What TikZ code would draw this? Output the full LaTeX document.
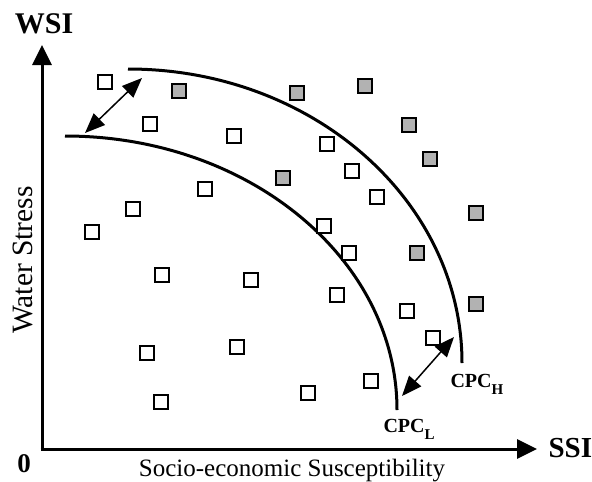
\documentclass[tikz,border=0pt]{standalone}
\usepackage{fontspec}
\setmainfont{Liberation Serif}
\usepackage{tikz}
\usetikzlibrary{positioning}
\usetikzlibrary{arrows.meta}
\definecolor{boxgray}{RGB}{178,178,178}
\newcommand{\cpclabel}[1]{CPC\raisebox{-7pt}{\fontsize{15}{15}\selectfont #1}}

\begin{document}
\begin{tikzpicture}[x=1pt,y=-1pt,
		wbox/.style={draw,line width=1.5pt,fill=white,inner sep=0pt,minimum size=14pt},
		gbox/.style={wbox,fill=boxgray},
		axis/.style={line width=3pt,-{Triangle[length=20pt,width=19pt]}},
		band/.style={line width=3pt},
		dbl/.style={line width=1.5pt,{Triangle[length=20pt,width=16pt]}-{Triangle[length=20pt,width=16pt]}}]
			\useasboundingbox (0,0) rectangle (592,482);

			% Axes
			\coordinate (O) at (42,449);
			\coordinate (ytip) at (42,45);
			\coordinate (xtip) at (537,449);
			\draw[axis] ([yshift=1.5pt]O) -- (ytip);
			\draw[axis] ([xshift=-1.5pt]O) -- (xtip);

			% Axis labels
			\node[anchor=base] (wsi) at (44,33) {\fontsize{30}{30}\selectfont\bfseries WSI};
			\node[anchor=base west] (ssi) at (545,457) {\fontsize{29}{29}\selectfont\bfseries SSI};
			\node[anchor=base] (zero) at (24,472) {\fontsize{27}{27}\selectfont\bfseries 0};
			\node[anchor=base,rotate=90] (ws) at (32,260) {\fontsize{29.5}{29.5}\selectfont Water Stress};
			\node[anchor=base] (se) at (292,476) {\fontsize{25}{25}\selectfont Socio-economic Susceptibility};

			% Critical curves
			\draw[band] (65,136) .. controls (248.4,136) and (397,258.7) .. (397,410);
			\draw[band] (128,69) .. controls (312.5,69) and (462,200.6) .. (462,363);
			\node[anchor=base west] (cpcl) at (380,432) {\fontsize{20}{20}\selectfont\bfseries\cpclabel{L}};
			\node[anchor=base west] (cpch) at (447,387) {\fontsize{20}{20}\selectfont\bfseries\cpclabel{H}};

			% Regions
			\foreach \x/\y [count=\i] in {105/82,150/124,234/136,205/189,133/209,92/232,327/144,
				352/171,377/197,324/226,349/253,162/275,251/280,337/295,407/311,433/338,
				147/353,237/347,161/402,308/393,371/381}
				\node[wbox] (w\i) at (\x,\y) {};
			\foreach \x/\y [count=\i] in {179/91,297/93,365/86,409/125,430/159,283/178,
				476/213,417/253,476/304}
				\node[gbox] (g\i) at (\x,\y) {};

			% Band width
			\coordinate (a1) at (85,133);
			\coordinate (a2) at (142,78);
			\coordinate (b1) at (402,396);
			\coordinate (b2) at (454,337);
			\draw[dbl] (a1) -- (a2);
			\draw[dbl] (b1) -- (b2);
		\end{tikzpicture}
\end{document}
